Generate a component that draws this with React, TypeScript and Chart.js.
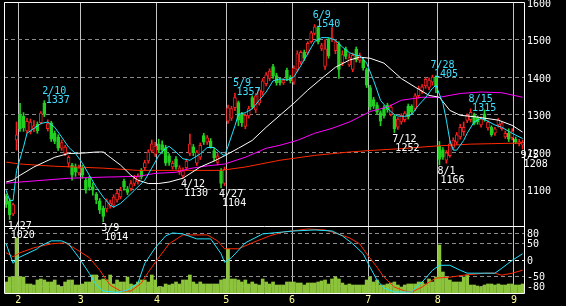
import { useEffect, useRef } from 'react';
import { Chart, registerables } from 'chart.js';

Chart.register(...registerables);

// ---------- daily candles (index 0 = 1/26, index 149 = 9/5) ----------
const open = [1082,1070,1035,1232,1300,1295,1256,1254,1262,1274,
1278,1330,1262,1278,1250,1240,1210,1196,1170,1165,
1160,1144,1157,1125,1132,1108,1088,1070,1050,1048,
1056,1058,1072,1080,1122,1102,1102,1116,1120,1150,
1158,1176,1204,1194,1222,1220,1212,1190,1160,1182,
1146,1136,1158,1196,1214,1170,1186,1244,1226,1230,
1204,1172,1150,1116,1282,1290,1318,1332,1300,1268,
1296,1345,1312,1330,1360,1382,1396,1428,1404,1392,
1384,1418,1400,1386,1420,1440,1466,1464,1494,1516,
1532,1476,1428,1498,1500,1470,1488,1438,1474,1432,
1420,1474,1444,1446,1420,1372,1340,1326,1305,1318,
1325,1300,1295,1266,1280,1286,1322,1322,1316,1350,
1362,1376,1372,1386,1400,1215,1206,1178,1190,1212,
1226,1240,1254,1284,1286,1298,1292,1272,1302,1264,
1266,1250,1272,1262,1240,1250,1238,1234,1222,1218];

const high = [1088,1076,1064,1280,1330,1305,1290,1288,1284,1280,
1308,1337,1286,1282,1256,1246,1232,1218,1190,1170,
1168,1165,1165,1130,1136,1118,1092,1076,1056,1075,
1072,1086,1098,1106,1128,1108,1124,1138,1142,1156,
1178,1206,1232,1226,1234,1230,1218,1196,1176,1188,
1164,1158,1182,1248,1220,1204,1224,1250,1244,1236,
1210,1196,1156,1160,1325,1322,1357,1336,1306,1302,
1322,1350,1356,1372,1396,1412,1422,1434,1410,1398,
1396,1424,1404,1430,1470,1470,1472,1494,1522,1540,
1536,1490,1500,1504,1532,1500,1494,1470,1480,1462,
1464,1480,1464,1452,1424,1378,1346,1332,1310,1324,
1330,1326,1300,1292,1302,1308,1328,1326,1356,1376,
1380,1398,1398,1405,1403,1228,1212,1204,1230,1238,
1252,1274,1280,1302,1315,1304,1296,1294,1312,1284,
1270,1266,1290,1280,1256,1262,1262,1240,1234,1232];

const low = [1052,1020,1030,1205,1255,1255,1250,1248,1254,1250,
1274,1294,1256,1228,1222,1204,1204,1190,1160,1125,
1135,1138,1130,1090,1098,1085,1062,1036,1014,1040,
1050,1052,1066,1075,1098,1086,1096,1110,1114,1128,
1152,1170,1198,1188,1198,1196,1164,1164,1154,1154,
1140,1130,1152,1190,1190,1164,1180,1220,1220,1210,
1176,1165,1104,1110,1276,1284,1310,1270,1268,1262,
1290,1315,1305,1325,1352,1376,1390,1396,1378,1378,
1380,1390,1384,1380,1414,1434,1444,1460,1490,1512,
1488,1470,1420,1450,1494,1462,1396,1430,1448,1428,
1414,1440,1438,1418,1372,1312,1316,1300,1270,1290,
1306,1296,1252,1260,1274,1280,1288,1300,1310,1344,
1356,1370,1366,1378,1358,1166,1180,1170,1186,1206,
1220,1234,1244,1278,1280,1272,1274,1266,1282,1258,
1242,1244,1266,1258,1236,1228,1232,1222,1216,1208];

const close = [1060,1032,1060,1246,1262,1265,1282,1280,1270,1256,
1304,1300,1276,1234,1228,1210,1225,1213,1186,1138,
1146,1158,1138,1098,1106,1098,1072,1045,1028,1070,
1064,1080,1090,1098,1106,1092,1116,1130,1136,1134,
1172,1200,1222,1216,1205,1206,1170,1172,1170,1160,
1158,1150,1176,1222,1198,1200,1218,1226,1238,1214,
1184,1190,1116,1154,1318,1316,1345,1285,1278,1298,
1316,1320,1350,1366,1390,1406,1416,1402,1384,1384,
1392,1396,1390,1424,1462,1466,1450,1490,1518,1534,
1494,1484,1475,1456,1505,1494,1420,1460,1455,1452,
1458,1446,1458,1424,1378,1320,1322,1306,1282,1296,
1312,1320,1262,1288,1298,1304,1294,1306,1350,1370,
1374,1394,1392,1400,1376,1180,1186,1198,1222,1232,
1246,1266,1266,1298,1306,1276,1280,1288,1286,1280,
1246,1262,1286,1276,1250,1234,1256,1226,1228,1226];

// volume (thousand shares)
const volume = [110,160,160,550,160,160,90,90,80,130,
140,130,110,110,130,80,60,110,130,130,
80,80,90,110,110,180,180,130,140,130,
180,90,130,110,110,160,90,80,110,130,
130,110,180,130,60,60,90,80,90,110,
90,130,130,180,110,90,110,90,90,90,
90,90,130,140,440,140,140,130,110,130,
90,110,90,80,140,110,90,110,80,80,
80,110,110,110,100,100,80,100,100,100,
110,120,130,90,140,160,140,100,80,90,
80,80,80,80,130,160,110,130,80,80,
90,100,110,80,60,80,90,90,90,110,
110,90,140,110,160,480,210,160,130,110,
110,110,160,180,80,80,70,60,80,90,
90,80,90,80,80,90,90,80,80,90];

// moving averages, read at [day index, price]
const maShort = [[0,1098],[1,1071],[2,1071],[3,1151],[5,1213],[6,1250],[8,1263],[10,1276],[12,1280],[14,1266],[16,1240],[18,1213],[20,1196],[22,1170],[24,1138],[26,1106],[28,1080],[30,1058],[31,1053],[33,1063],[35,1080],[37,1098],[40,1125],[42,1157],[44,1190],[46,1210],[47,1215],[49,1200],[51,1182],[53,1178],[56,1195],[58,1212],[60,1212],[62,1196],[63,1190],[64,1215],[66,1270],[67,1300],[69,1305],[71,1315],[73,1338],[75,1360],[77,1390],[79,1395],[81,1392],[83,1400],[85,1430],[87,1462],[89,1495],[91,1505],[93,1505],[95,1498],[97,1480],[99,1465],[101,1458],[102,1457],[104,1437],[106,1391],[108,1338],[110,1316],[112,1300],[113,1296],[115,1295],[117,1300],[119,1325],[121,1345],[123,1370],[124,1378],[126,1330],[127,1285],[128,1231],[129,1205],[130,1205],[132,1231],[133,1250],[135,1280],[137,1290],[139,1282],[141,1272],[143,1266],[145,1255],[147,1245],[149,1236]];
const maMid = [[0,1120],[2,1125],[4,1138],[8,1160],[11,1173],[14,1186],[18,1196],[22,1197],[26,1200],[28,1200],[30,1186],[33,1165],[36,1138],[38,1125],[41,1116],[44,1116],[47,1120],[51,1130],[56,1160],[60,1176],[63,1190],[67,1210],[71,1231],[75,1266],[79,1298],[83,1330],[87,1365],[91,1396],[95,1426],[99,1445],[102,1453],[105,1450],[109,1437],[114,1396],[118,1373],[122,1351],[125,1346],[128,1311],[131,1298],[136,1293],[142,1285],[146,1271],[149,1253]];
const maLong = [[0,1117],[4,1120],[11,1125],[18,1130],[28,1133],[38,1135],[43,1143],[49,1146],[53,1156],[58,1163],[63,1168],[69,1186],[75,1210],[79,1218],[84,1231],[89,1250],[94,1263],[99,1280],[105,1308],[110,1320],[114,1338],[120,1346],[125,1346],[131,1356],[137,1360],[143,1358],[149,1346]];
const maYear = [[0,1173],[4,1168],[14,1162],[28,1157],[38,1151],[47,1151],[62,1151],[69,1160],[79,1178],[89,1191],[99,1200],[105,1204],[114,1209],[124,1216],[134,1221],[149,1224]];

// oscillators (-100..100), read at [day index, value]
const oscFast = [[0,49],[2,-10],[3,4],[6,19],[9,34],[10,43],[13,58],[16,58],[18,49],[21,7],[24,-41],[26,-76],[28,-94],[32,-98],[35,-91],[38,-70],[40,-10],[43,37],[46,73],[48,82],[51,79],[55,64],[59,64],[62,19],[63,-7],[65,7],[69,52],[74,79],[80,85],[83,88],[89,91],[94,88],[97,73],[100,49],[103,19],[105,-22],[107,-61],[109,-85],[112,-97],[117,-97],[118,-85],[120,-67],[123,-31],[125,-16],[128,-16],[131,-31],[133,-40],[138,-40],[141,-40],[143,-25],[146,-1],[149,19]];
const oscSlow = [[0,22],[2,10],[4,22],[8,37],[13,49],[17,52],[20,34],[24,7],[27,-31],[30,-76],[33,-94],[36,-94],[39,-70],[41,-37],[44,7],[47,49],[51,76],[58,76],[61,58],[63,34],[67,34],[71,52],[76,73],[80,85],[87,94],[92,91],[95,82],[99,67],[102,49],[104,19],[107,-22],[109,-52],[112,-82],[115,-94],[117,-97],[120,-82],[122,-67],[124,-55],[128,-52],[132,-46],[138,-40],[141,-40],[143,-46],[146,-40],[149,-31]];

// labels
const peakIdx = [11, 66, 89, 123, 134];
const peakVal = [1337, 1357, 1540, 1405, 1315];
const peakDate = ['2/10', '5/9', '6/9', '7/28', '8/15'];
const troughIdx = [1, 28, 51, 62, 112, 125, 149];
const troughVal = [1020, 1014, 1130, 1104, 1252, 1166, 1208];
const troughDate = ['1/27', '3/9', '4/12', '4/27', '7/12', '8/1', '9/5'];

// axes
const monthTicks = [3.5, 21.5, 43.5, 63.5, 82.5, 104.5, 124.5, 146.5];
const monthLabels = ['2', '3', '4', '5', '6', '7', '8', '9'];
const priceTicks = [1100, 1200, 1300, 1400, 1500, 1600];
const oscTicks = [-80, -50, 0, 50, 80];

const FONT = '"DejaVu Sans Mono", monospace';
const UP = '#f22020';
const DOWN = '#22d022';
const CYAN = '#20e4ff';
const CYAN_TXT = '#40e0ff';
const GRID = '#8c8c8c';

const isUp = (i: number) => close[i] >= open[i];
const pts = (a: number[][]) => a.map(([x, y]) => ({ x, y }));

export default function App() {
  const ref = useRef<HTMLCanvasElement | null>(null);

  useEffect(() => {
    const canvas = ref.current;
    if (!canvas) return;

    const frame = {
      id: 'frame',
      beforeDraw(c: any) {
        const g = c.ctx;
        g.save();
        g.fillStyle = '#000';
        g.fillRect(0, 0, c.width, c.height);
        g.restore();
      },
      afterDraw(c: any) {
        const g = c.ctx;
        const a = c.chartArea;
        const os = c.scales.osc;
        g.save();
        g.strokeStyle = '#ffffff';
        g.lineWidth = 1;
        const L = Math.round(a.left) + 0.5;
        const R = Math.round(a.right) + 0.5;
        const T = Math.round(a.top) + 0.5;
        const B = Math.round(a.bottom) + 0.5;
        const S = Math.round(os.top) - 0.5;
        g.beginPath();
        g.rect(L, T, R - L, B - T);
        g.moveTo(L, S);
        g.lineTo(R, S);
        g.stroke();

        const xs = c.scales.x;
        const ys = c.scales.y;
        g.font = `10px ${FONT}`;
        g.textAlign = 'left';
        g.textBaseline = 'alphabetic';
        g.fillStyle = CYAN_TXT;
        peakIdx.forEach((i, k) => {
          const px = xs.getPixelForValue(i);
          const py = ys.getPixelForValue(peakVal[k]);
          g.fillText(peakDate[k], px - 2, py - 7);
          g.fillText(String(peakVal[k]), px + 1.5, py + 2);
        });
        g.fillStyle = '#ffffff';
        troughIdx.forEach((i, k) => {
          const px = xs.getPixelForValue(i);
          const py = ys.getPixelForValue(troughVal[k]);
          g.fillText(troughDate[k], px - 2, py + 9);
          g.fillText(String(troughVal[k]), px + 1, py + 18);
        });
        g.restore();
      },
    };

    const line = (data: number[][], color: string, axis: string, order: number) => ({
      type: 'line' as const,
      data: pts(data),
      yAxisID: axis,
      borderColor: color,
      borderWidth: 1,
      pointRadius: 0,
      tension: 0,
      order,
    });

    const chart = new Chart(canvas, {
      type: 'line',
      data: {
        datasets: [
          line(maShort, CYAN, 'y', 0),
          line(maMid, '#ffffff', 'y', 1),
          line(maLong, '#ff00ff', 'y', 2),
          line(maYear, '#ff2a00', 'y', 3),
          {
            type: 'bar',
            data: open.map((o, i) => ({ x: i, y: [o, close[i]] })),
            yAxisID: 'y',
            barThickness: 3,
            grouped: false,
            minBarLength: 1,
            borderWidth: 1,
            borderSkipped: false,
            backgroundColor: (ctx: any) => (isUp(ctx.dataIndex) ? '#000000' : DOWN),
            borderColor: (ctx: any) => (isUp(ctx.dataIndex) ? UP : DOWN),
            order: 10,
          } as any,
          {
            type: 'bar',
            data: low.map((l, i) => ({ x: i, y: [l, high[i]] })),
            yAxisID: 'y',
            barThickness: 1,
            grouped: false,
            borderWidth: 0,
            backgroundColor: (ctx: any) => (isUp(ctx.dataIndex) ? UP : DOWN),
            order: 11,
          } as any,
          line(oscFast, CYAN, 'osc', 12),
          line(oscSlow, '#ff2a00', 'osc', 13),
          {
            type: 'bar',
            data: volume.map((v, i) => ({ x: i, y: v })),
            yAxisID: 'vol',
            barThickness: 3,
            grouped: false,
            borderWidth: 0,
            backgroundColor: '#8cc43c',
            order: 20,
          } as any,
        ],
      },
      options: {
        responsive: false,
        devicePixelRatio: 1,
        animation: false,
        events: [],
        layout: { padding: { left: 4, top: 2, right: 0, bottom: 0 } },
        plugins: { legend: { display: false }, tooltip: { enabled: false } },
        scales: {
          x: {
            type: 'linear',
            position: 'bottom',
            min: -0.63,
            max: 149.4,
            offset: false,
            afterBuildTicks: (s: any) => {
              s.ticks = monthTicks.map((v) => ({ value: v }));
            },
            afterFit: (s: any) => {
              s.height = 13;
              s.paddingLeft = 0;
              s.paddingRight = 0;
            },
            ticks: {
              autoSkip: false,
              maxRotation: 0,
              minRotation: 0,
              padding: 1,
              color: '#ffff99',
              font: { family: FONT, size: 10 },
              callback: (v: any) => {
                const k = monthTicks.indexOf(Number(v));
                return k >= 0 ? monthLabels[k] : '';
              },
            },
            grid: { color: '#c4c4c4', lineWidth: 1, drawTicks: false, offset: false },
            border: { display: false },
          },
          y: {
            type: 'linear',
            position: 'right',
            stack: 'panels',
            stackWeight: 225,
            min: 1000,
            max: 1600,
            afterBuildTicks: (s: any) => {
              s.ticks = priceTicks.map((v) => ({ value: v }));
            },
            afterFit: (s: any) => {
              s.width = 42;
              s.paddingTop = 0;
              s.paddingBottom = 0;
            },
            ticks: {
              autoSkip: false,
              color: '#ffffff',
              padding: 3,
              labelOffset: 2,
              font: { family: FONT, size: 10 },
              callback: (v: any) => String(v),
            },
            grid: { color: GRID, lineWidth: 1, drawTicks: false },
            border: { display: false, dash: [4, 3] },
          },
          osc: {
            type: 'linear',
            position: 'right',
            stack: 'panels',
            stackWeight: 66,
            min: -100,
            max: 100,
            afterBuildTicks: (s: any) => {
              s.ticks = oscTicks.map((v) => ({ value: v }));
            },
            afterFit: (s: any) => {
              s.width = 42;
              s.paddingTop = 0;
              s.paddingBottom = 0;
            },
            ticks: {
              autoSkip: false,
              color: '#ffffff',
              padding: 3,
              labelOffset: 1,
              font: { family: FONT, size: 10 },
              callback: (v: any) => String(v),
            },
            grid: {
              color: (ctx: any) => (ctx.tick && ctx.tick.value === 0 ? '#ffffff' : GRID),
              lineWidth: 1,
              drawTicks: false,
            },
            border: { display: false, dash: [4, 3] },
          },
          vol: {
            type: 'linear',
            display: false,
            min: 0,
            max: 2910,
          },
        },
      } as any,
      plugins: [frame],
    });

    return () => chart.destroy();
  }, []);

  return (
    <div style={{ position: 'fixed', left: 0, top: 0, width: 566, height: 306, background: '#000' }}>
      <canvas ref={ref} width={566} height={306} style={{ display: 'block', width: 566, height: 306 }} />
    </div>
  );
}
